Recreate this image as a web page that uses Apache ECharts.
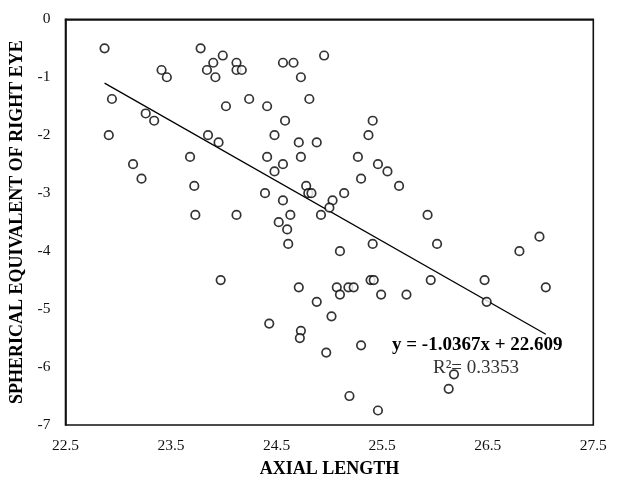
<!DOCTYPE html>
<html>
<head>
<meta charset="utf-8">
<script src="https://cdn.jsdelivr.net/npm/echarts@6/dist/echarts.min.js"></script>
<style>html,body{margin:0;padding:0;background:#fff;}#c{width:622px;height:478px;}</style>
</head>
<body>
<div id="c"></div>
<script>
const axialLength = [22.87,23.78,23.99,23.90,24.12,23.41,23.84,24.12,24.17,23.46,23.92,22.94,24.24,24.02,23.26,23.34,22.91,23.85,23.95,23.68,23.14,23.22,23.72,23.73,24.12,23.97,24.56,24.66,24.95,24.73,24.81,24.41,24.58,25.41,24.48,25.37,24.71,24.88,24.41,24.73,25.27,24.56,25.46,24.48,25.55,25.30,24.78,25.66,24.39,24.80,24.83,25.14,24.56,25.03,25.00,24.63,24.92,25.93,24.52,24.60,24.61,25.41,26.02,25.10,25.39,25.42,25.96,24.71,25.07,25.18,25.23,25.10,25.49,25.73,24.88,25.02,24.43,24.73,24.72,25.30,24.97,25.19,25.46,26.99,26.80,26.47,27.05,26.49,26.18,26.13];
const sphericalEquivalent = [-0.5,-0.5,-0.625,-0.75,-0.75,-0.875,-0.875,-0.875,-0.875,-1,-1,-1.375,-1.375,-1.5,-1.625,-1.75,-2,-2,-2.125,-2.375,-2.5,-2.75,-2.875,-3.375,-3.375,-4.5,-0.75,-0.75,-0.625,-1,-1.375,-1.5,-1.75,-1.75,-2,-2,-2.125,-2.125,-2.375,-2.375,-2.375,-2.5,-2.5,-2.625,-2.625,-2.75,-2.875,-2.875,-3,-3,-3,-3,-3.125,-3.125,-3.25,-3.375,-3.375,-3.375,-3.5,-3.625,-3.875,-3.875,-3.875,-4,-4.5,-4.5,-4.5,-4.625,-4.625,-4.625,-4.625,-4.75,-4.75,-4.75,-4.875,-5.125,-5.25,-5.375,-5.5,-5.625,-5.75,-6.5,-6.75,-3.75,-4,-4.5,-4.625,-4.875,-6.125,-6.375];
const trendSlope = -1.0367;
const trendIntercept = 22.609;
const trendLabel = 'y = -1.0367x + 22.609';
const r2Label = 'R\u00B2= 0.3353';
const xTitle = 'AXIAL LENGTH';
const yTitle = 'SPHERICAL EQUIVALENT OF RIGHT EYE';

const pts = axialLength.map((x,i)=>[x, sphericalEquivalent[i]]);
const xMin = Math.min(...axialLength), xMax = Math.max(...axialLength);
const trend = [[xMin, trendSlope*xMin+trendIntercept],[xMax, trendSlope*xMax+trendIntercept]];
const serif = '"Liberation Serif","Times New Roman",serif';

const chart = echarts.init(document.getElementById('c'));
chart.setOption({
  animation:false,
  grid:{left:65.5,right:28.7,top:19.3,bottom:53,outerBoundsMode:'none',containLabel:false,show:true,borderColor:'#111',borderWidth:1.6,backgroundColor:'transparent'},
  xAxis:{type:'value',min:22.5,max:27.5,interval:1,
    name:xTitle,nameLocation:'middle',nameGap:35,
    nameTextStyle:{fontFamily:serif,fontWeight:'bold',fontSize:18,color:'#000'},
    axisLine:{show:true,lineStyle:{color:'#111',width:1.6}},axisTick:{show:false},splitLine:{show:false},
    axisLabel:{fontFamily:serif,fontSize:15.5,color:'#111',margin:13}},
  yAxis:{type:'value',min:-7,max:0,interval:1,
    name:yTitle,nameLocation:'middle',nameGap:37,nameRotate:90,
    nameTextStyle:{fontFamily:serif,fontWeight:'bold',fontSize:18,color:'#000'},
    axisLine:{show:true,lineStyle:{color:'#111',width:1.6}},axisTick:{show:false},splitLine:{show:false},
    axisLabel:{fontFamily:serif,fontSize:15.5,color:'#111',margin:15}},
  series:[
    {type:'scatter',data:pts,symbol:'circle',symbolSize:8.5,
     itemStyle:{color:'#fff',borderColor:'#000',borderWidth:1.7},z:3},
    {type:'line',data:trend,symbol:'none',lineStyle:{color:'#000',width:1.3},z:2}
  ],
  graphic:[
    {type:'text',left:392,top:336,style:{text:trendLabel,font:'bold 19px '+serif,fill:'#000'}},
    {type:'text',left:433,top:359,style:{text:r2Label,font:'19px '+serif,fill:'#333'}}
  ]
});
</script>
</body>
</html>
